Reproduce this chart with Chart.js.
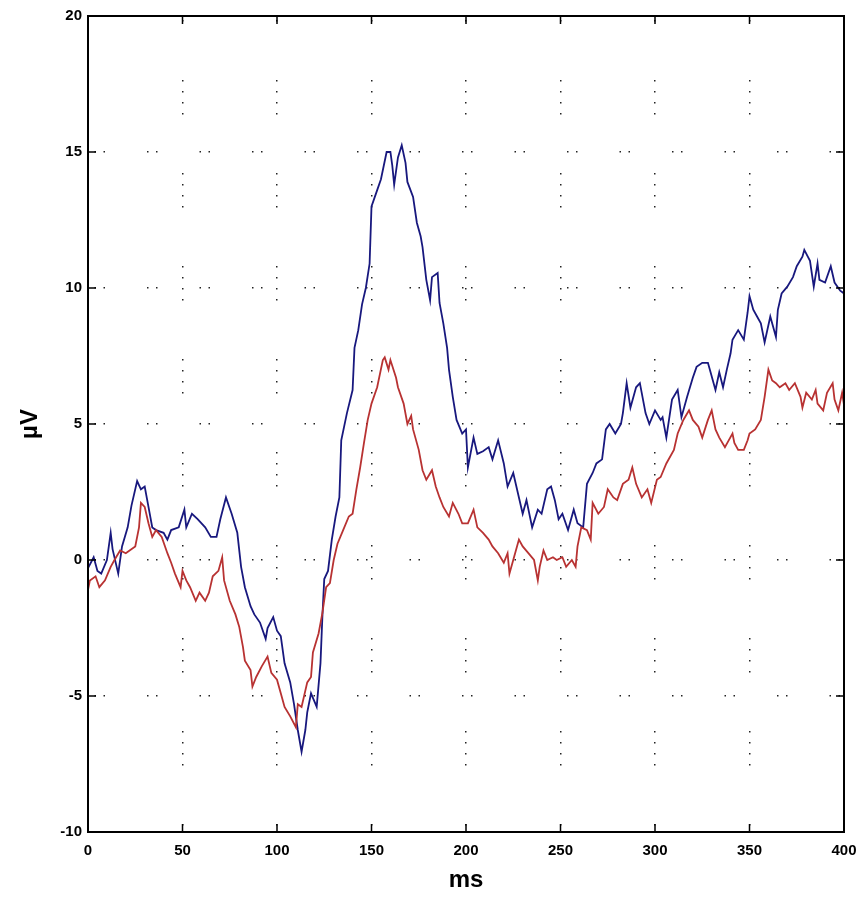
<!DOCTYPE html>
<html>
<head>
<meta charset="utf-8">
<script src="https://cdn.jsdelivr.net/npm/chart.js@4/dist/chart.umd.min.js"></script>
<style>
  html, body { margin: 0; padding: 0; background: #fff; }
  #wrap { width: 861px; height: 898px; position: relative; }
</style>
</head>
<body>
<div id="wrap"><canvas id="erp"></canvas></div>
<script>
/* ERP waveforms, two conditions, µV over ms */

const xTicks = [0, 50, 100, 150, 200, 250, 300, 350, 400];
const yTicks = [-10, -5, 0, 5, 10, 15, 20];

const blueTimes = [0, 3, 5, 7, 10, 12, 13, 16, 18, 21, 23, 26, 28, 30, 32, 34, 36, 40, 42, 44,
    48, 51, 52, 55, 58, 62, 65, 68, 70, 73, 76, 79, 81, 83, 86, 88, 91, 94, 95, 98,
    100, 102, 104, 107, 109, 111, 113, 115, 116, 118, 121, 123, 124, 125, 127, 129, 131, 133, 134, 137,
    140, 141, 143, 145, 147, 149, 150, 153, 155, 158, 160, 161, 162, 164, 166, 168, 169, 172, 174, 176,
    177, 179, 181, 182, 185, 186, 188, 190, 191, 193, 195, 198, 200, 201, 204, 206, 209, 212, 214, 217,
    220, 222, 225, 228, 230, 232, 235, 238, 240, 243, 245, 247, 249, 251, 254, 257, 259, 262, 264, 267,
    269, 272, 274, 276, 279, 282, 283, 285, 287, 290, 292, 295, 297, 300, 303, 304, 306, 309, 312, 314,
    317, 320, 322, 325, 328, 329, 332, 334, 336, 338, 340, 341, 344, 347, 349, 350, 352, 354, 356, 358,
    361, 364, 365, 367, 370, 373, 375, 378, 379, 382, 384, 386, 387, 390, 393, 395, 398, 400];
const blueValues = [-0.3, 0.1, -0.4, -0.5, 0, 1.0, 0.4, -0.5, 0.5, 1.2, 2.0, 2.9, 2.6, 2.7, 1.95, 1.2, 1.1, 1.0, 0.75, 1.1,
    1.2, 1.85, 1.2, 1.7, 1.5, 1.2, 0.85, 0.85, 1.5, 2.3, 1.7, 1.0, -0.25, -1.0, -1.7, -2.0, -2.3, -2.9, -2.5, -2.1,
    -2.6, -2.8, -3.8, -4.5, -5.3, -6.25, -7.05, -6.25, -5.6, -4.9, -5.4, -3.8, -2.1, -0.7, -0.4, 0.75, 1.6, 2.3, 4.4, 5.4,
    6.25, 7.8, 8.45, 9.4, 10.0, 10.9, 13.0, 13.6, 14.0, 15.0, 15.0, 14.5, 13.8, 14.8, 15.25, 14.6, 13.9, 13.35, 12.4, 11.9,
    11.5, 10.3, 9.55, 10.4, 10.55, 9.45, 8.7, 7.8, 7.0, 6.0, 5.15, 4.65, 4.8, 3.4, 4.5, 3.9, 4.0, 4.15, 3.7, 4.4,
    3.55, 2.7, 3.2, 2.3, 1.7, 2.2, 1.2, 1.85, 1.7, 2.6, 2.7, 2.2, 1.5, 1.7, 1.1, 1.85, 1.35, 1.2, 2.8, 3.2,
    3.55, 3.7, 4.8, 5.0, 4.65, 5.0, 5.4, 6.5, 5.6, 6.35, 6.5, 5.4, 5.0, 5.5, 5.15, 5.25, 4.5, 5.9, 6.25, 5.25,
    6.0, 6.7, 7.1, 7.25, 7.25, 7.0, 6.25, 6.9, 6.35, 7.0, 7.6, 8.1, 8.45, 8.1, 9.1, 9.7, 9.2, 8.95, 8.7, 8.0,
    8.95, 8.2, 9.2, 9.8, 10.05, 10.4, 10.8, 11.15, 11.4, 11.0, 10.05, 10.9, 10.3, 10.2, 10.8, 10.2, 9.9, 9.8];

const redTimes = [0, 1, 4, 6, 9, 12, 14, 17, 20, 22, 25, 27, 28, 30, 32, 34, 36, 39, 42, 44,
    46, 49, 50, 52, 54, 57, 59, 62, 64, 66, 69, 71, 72, 75, 78, 80, 82, 83, 86, 87,
    89, 92, 95, 97, 100, 102, 104, 107, 110, 111, 113, 116, 118, 119, 122, 124, 126, 128, 130, 132,
    135, 138, 140, 142, 144, 146, 148, 150, 153, 156, 157, 159, 160, 163, 164, 167, 169, 171, 172, 175,
    177, 179, 182, 184, 186, 188, 191, 193, 196, 198, 201, 204, 206, 209, 212, 214, 217, 220, 222, 223,
    225, 228, 230, 233, 236, 238, 239, 241, 243, 246, 248, 251, 253, 256, 258, 259, 261, 264, 266, 267,
    270, 273, 275, 278, 280, 283, 286, 288, 290, 293, 296, 298, 301, 303, 306, 310, 312, 315, 318, 320,
    323, 325, 328, 330, 332, 334, 337, 339, 341, 342, 344, 347, 349, 350, 353, 356, 358, 360, 362, 364,
    366, 369, 371, 374, 377, 378, 380, 383, 385, 386, 389, 391, 394, 395, 397, 399, 400];
const redValues = [-1.1, -0.75, -0.6, -1.0, -0.75, -0.25, 0, 0.35, 0.25, 0.35, 0.5, 1.2, 2.1, 1.95, 1.35, 0.85, 1.1, 0.85, 0.25, -0.1,
    -0.5, -1.0, -0.4, -0.75, -1.0, -1.5, -1.2, -1.5, -1.2, -0.6, -0.4, 0.1, -0.75, -1.5, -2.0, -2.45, -3.2, -3.7, -4.05, -4.65,
    -4.3, -3.9, -3.55, -4.15, -4.4, -4.9, -5.4, -5.75, -6.15, -5.3, -5.4, -4.5, -4.3, -3.4, -2.7, -1.95, -1.0, -0.85, 0, 0.6,
    1.1, 1.6, 1.7, 2.6, 3.4, 4.3, 5.15, 5.75, 6.35, 7.35, 7.45, 7.0, 7.35, 6.7, 6.35, 5.75, 5.0, 5.3, 4.8, 4.05,
    3.3, 2.95, 3.3, 2.7, 2.3, 1.95, 1.6, 2.1, 1.7, 1.35, 1.35, 1.85, 1.2, 1.0, 0.75, 0.5, 0.25, -0.1, 0.25, -0.5,
    0, 0.75, 0.5, 0.25, 0, -0.75, -0.25, 0.35, 0, 0.1, 0, 0.1, -0.25, 0, -0.25, 0.5, 1.2, 1.1, 0.75, 2.1,
    1.7, 1.95, 2.6, 2.3, 2.2, 2.8, 2.95, 3.4, 2.8, 2.3, 2.6, 2.1, 2.95, 3.05, 3.55, 4.05, 4.65, 5.15, 5.5, 5.15,
    4.9, 4.5, 5.15, 5.5, 4.8, 4.5, 4.15, 4.4, 4.65, 4.3, 4.05, 4.05, 4.4, 4.65, 4.8, 5.15, 6.0, 7.0, 6.6, 6.5,
    6.35, 6.5, 6.25, 6.5, 6.0, 5.6, 6.15, 5.9, 6.25, 5.75, 5.5, 6.15, 6.5, 5.9, 5.5, 6.15, 5.7];

const tickFont = { family: "'Liberation Sans', Arial, sans-serif", size: 15, weight: 'bold' };
const titleFont = { family: "'Liberation Sans', Arial, sans-serif", size: 24, weight: 'bold' };

// box around the plot plus inward tick marks, like the original figure
const boxPlugin = {
    id: 'box',
    afterDraw(chart) {
        const { ctx, chartArea: a } = chart;
        const xs = chart.scales.x, ys = chart.scales.y;
        const len = 8;
        ctx.save();
        ctx.strokeStyle = '#000';
        ctx.lineWidth = 2;
        ctx.strokeRect(a.left, a.top, a.right - a.left, a.bottom - a.top);
        ctx.lineWidth = 1.5;
        ctx.beginPath();
        xs.ticks.forEach(t => {
            const px = xs.getPixelForValue(t.value);
            ctx.moveTo(px, a.bottom); ctx.lineTo(px, a.bottom - len);
            ctx.moveTo(px, a.top); ctx.lineTo(px, a.top + len);
        });
        ys.ticks.forEach(t => {
            const py = ys.getPixelForValue(t.value);
            ctx.moveTo(a.left, py); ctx.lineTo(a.left + len, py);
            ctx.moveTo(a.right, py); ctx.lineTo(a.right - len, py);
        });
        ctx.stroke();
        ctx.restore();
    }
};

const toPoints = (xsArr, ysArr) => xsArr.map((t, i) => ({ x: t, y: ysArr[i] }));

new Chart(document.getElementById('erp'), {
    type: 'line',
    data: {
        datasets: [
            {
                label: 'red',
                data: toPoints(redTimes, redValues),
                borderColor: '#b83232',
                borderWidth: 1.8,
                pointRadius: 0,
                tension: 0
            },
            {
                label: 'blue',
                data: toPoints(blueTimes, blueValues),
                borderColor: '#18187e',
                borderWidth: 1.8,
                pointRadius: 0,
                tension: 0
            }
        ]
    },
    options: {
        responsive: true,
        maintainAspectRatio: false,
        animation: false,
        layout: { padding: { top: 16, right: 17, left: 0, bottom: 0 } },
        plugins: {
            legend: { display: false },
            tooltip: { enabled: false }
        },
        scales: {
            x: {
                type: 'linear',
                min: 0,
                max: 400,
                afterBuildTicks: s => { s.ticks = xTicks.map(v => ({ value: v })); },
                afterFit: s => { s.height = 66; s.paddingLeft = 0; s.paddingRight = 0; },
                grid: { color: '#222', lineWidth: 1.5, drawTicks: false },
                border: { display: false, dash: [1.5, 9.5, 1.5, 9.5, 1.5, 9.5, 1.5, 58.5], dashOffset: 29 },
                ticks: { color: '#000', font: tickFont, padding: 10, maxRotation: 0 },
                title: { display: true, text: 'ms', color: '#000', font: titleFont, padding: { top: 0, bottom: 3 } }
            },
            y: {
                min: -10,
                max: 20,
                afterBuildTicks: s => { s.ticks = yTicks.map(v => ({ value: v })); },
                afterFit: s => { s.width = 88; },
                grid: { color: '#222', lineWidth: 1.5, drawTicks: false },
                border: { display: false, dash: [1.5, 7.5, 1.5, 42], dashOffset: 46 },
                ticks: { color: '#000', font: tickFont, padding: 6 },
                title: { display: true, text: 'µV', color: '#000', font: titleFont, padding: { top: 16, bottom: 0 } }
            }
        }
    },
    plugins: [boxPlugin]
});
</script>
</body>
</html>
